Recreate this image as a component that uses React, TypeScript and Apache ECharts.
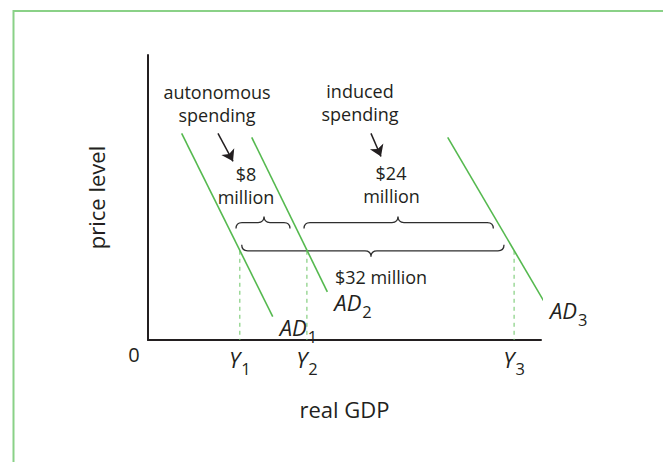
import React, { useEffect, useRef } from 'react';
import * as echarts from 'echarts';

const FONT = '"Open Sans", "Noto Sans", sans-serif';
const INK = '#231f20';
const GREEN = '#55b94f';
const GREEN_DASH = '#6cc566';

// axis ranges (real GDP in $ million-like units, price level arbitrary)
const xRange = [0, 46];
const yRange = [0, 100];

// aggregate demand curves (start, end)
const adSubscripts = ['1', '2', '3'];
const ad1Points = [[3.94, 72.5], [14.6, 8.2]];
const ad2Points = [[12.14, 71.1], [20.99, 16.9]];
const ad3Points = [[35.08, 71.1], [46.67, 11.9]];

// equilibrium price level and GDP levels
const equilibriumPriceLevel = 31.3;
const gdpLevels = [10.75, 18.6, 42.85];
const gdpSubscripts = ['1', '2', '3'];

// braces: x1, x2, tip x, level, direction (1 = tip up, -1 = tip down)
const braceStartX = [10.3, 18.26, 10.97];
const braceEndX = [16.62, 40.42, 41.67];
const braceTipX = [13.58, 29.26, 26.1];
const braceLevel = [41.2, 41.2, 31.3];
const braceDir = [1, 1, -1];

// arrows from annotation text to amounts
const arrowStarts = [[8.19, 72.5], [26.1, 72.5]];
const arrowEnds = [[9.95, 62.7], [27.27, 64.4]];

// annotation lines: text, x, y (pixels)
const annotationTexts = ['autonomous', 'spending', 'induced', 'spending', '$8', 'million', '$24', 'million', '$32 million'];
const annotationX = [217, 217, 360, 360, 246, 246, 391, 391.5, 381];
const annotationY = [91.5, 114.5, 91, 114, 173.5, 196.5, 173, 196, 276.7];

const subRich = {
  a: { fontFamily: FONT, fontSize: 22, fontStyle: 'italic', color: INK, lineHeight: 24, verticalAlign: 'top' },
  b: { fontFamily: FONT, fontSize: 16.5, color: INK, lineHeight: 16, padding: [12, 0, 0, 1], verticalAlign: 'top' },
};

export default function App() {
  const ref = useRef<HTMLDivElement>(null);
  useEffect(() => {
    if (!ref.current) return;
    const chart = echarts.init(ref.current, null, { renderer: 'svg' });
    const adSets = [ad1Points, ad2Points, ad3Points];
    const adSeries = adSets.map((pts, i) => ({
      type: 'line',
      name: 'AD' + adSubscripts[i],
      data: pts,
      symbol: 'none',
      clip: false,
      silent: true,
      lineStyle: { color: GREEN, width: 1.6 },
      endLabel: {
        show: true,
        formatter: `{a|AD}{b|${adSubscripts[i]}}`,
        rich: subRich,
        distance: 0,
        offset: [7, 11],
      },
    }));
    const dashSeries = gdpLevels.map((g) => ({
      type: 'line',
      data: [[g, equilibriumPriceLevel], [g, 0]],
      symbol: 'none',
      silent: true,
      lineStyle: { color: GREEN_DASH, width: 1, type: [4, 4] },
    }));
    const braceData = braceStartX.map((x1, i) => [x1, braceEndX[i], braceTipX[i], braceLevel[i], braceDir[i]]);
    const annotations = annotationTexts.map((t, i) => ({
      type: 'text',
      silent: true,
      x: annotationX[i],
      y: annotationY[i],
      style: { text: t, font: `18px ${FONT}`, fill: INK, textAlign: 'center', textVerticalAlign: 'middle' },
    }));
    const option = {
      animation: false,
      grid: { left: 148, top: 55, width: 393, height: 285 },
      xAxis: {
        type: 'value',
        min: xRange[0],
        max: xRange[1],
        name: 'real GDP',
        nameLocation: 'middle',
        nameGap: 58,
        nameTextStyle: { fontFamily: FONT, fontSize: 22, color: INK },
        axisLine: { show: true, lineStyle: { color: INK, width: 2 } },
        axisTick: { show: false },
        splitLine: { show: false },
        axisLabel: {
          show: true,
          customValues: gdpLevels,
          margin: 8,
          formatter: (v: number) => {
            const i = gdpLevels.findIndex((g) => Math.abs(g - v) < 1e-6);
            return `{a|Y}{b|${gdpSubscripts[i] ?? ''}}`;
          },
          rich: subRich,
        },
      },
      yAxis: {
        type: 'value',
        min: yRange[0],
        max: yRange[1],
        name: 'price level',
        nameLocation: 'middle',
        nameRotate: 90,
        nameGap: 41,
        nameTextStyle: { fontFamily: FONT, fontSize: 22, color: INK },
        axisLine: { show: true, lineStyle: { color: INK, width: 2 } },
        axisTick: { show: false },
        axisLabel: { show: false },
        splitLine: { show: false },
      },
      series: [
        ...dashSeries,
        ...adSeries,
        {
          type: 'custom',
          coordinateSystem: 'cartesian2d',
          data: braceData,
          clip: false,
          silent: true,
          renderItem: (params: any, api: any) => {
            const x1 = api.value(0), x2 = api.value(1), tip = api.value(2), lvl = api.value(3), dir = api.value(4);
            const p1 = api.coord([x1, lvl]);
            const p2 = api.coord([x2, lvl]);
            const pt = api.coord([tip, lvl]);
            const y = p1[1];
            const h = 6 * dir;
            const r = 6;
            const d = `M${p1[0]},${y + h} Q${p1[0]},${y} ${p1[0] + r},${y} L${pt[0] - r},${y} Q${pt[0]},${y} ${pt[0]},${y - h} Q${pt[0]},${y} ${pt[0] + r},${y} L${p2[0] - r},${y} Q${p2[0]},${y} ${p2[0]},${y + h}`;
            return { type: 'path', shape: { pathData: d }, style: { fill: 'none', stroke: '#2e2e2e', lineWidth: 1.3 } };
          },
        },
        {
          type: 'lines',
          coordinateSystem: 'cartesian2d',
          silent: true,
          symbol: ['none', 'arrow'],
          symbolSize: [7, 11],
          data: arrowStarts.map((s, i) => ({ coords: [s, arrowEnds[i]] })),
          lineStyle: { color: INK, width: 1.5, opacity: 1, curveness: 0 },
          itemStyle: { color: INK },
        },
      ],
      graphic: [
        { type: 'polyline', silent: true, shape: { points: [[13.5, 462], [13.5, 11], [663, 11]] }, style: { stroke: '#8ad187', lineWidth: 2, fill: 'none' } },
        { type: 'text', silent: true, x: 134, y: 354, style: { text: '0', font: `20px ${FONT}`, fill: INK, textAlign: 'center', textVerticalAlign: 'middle' } },
        ...annotations,
      ],
    };
    chart.setOption(option as any);
    return () => chart.dispose();
  }, []);
  return <div ref={ref} style={{ position: 'absolute', left: 0, top: 0, width: 663, height: 462, background: '#fff' }} />;
}
